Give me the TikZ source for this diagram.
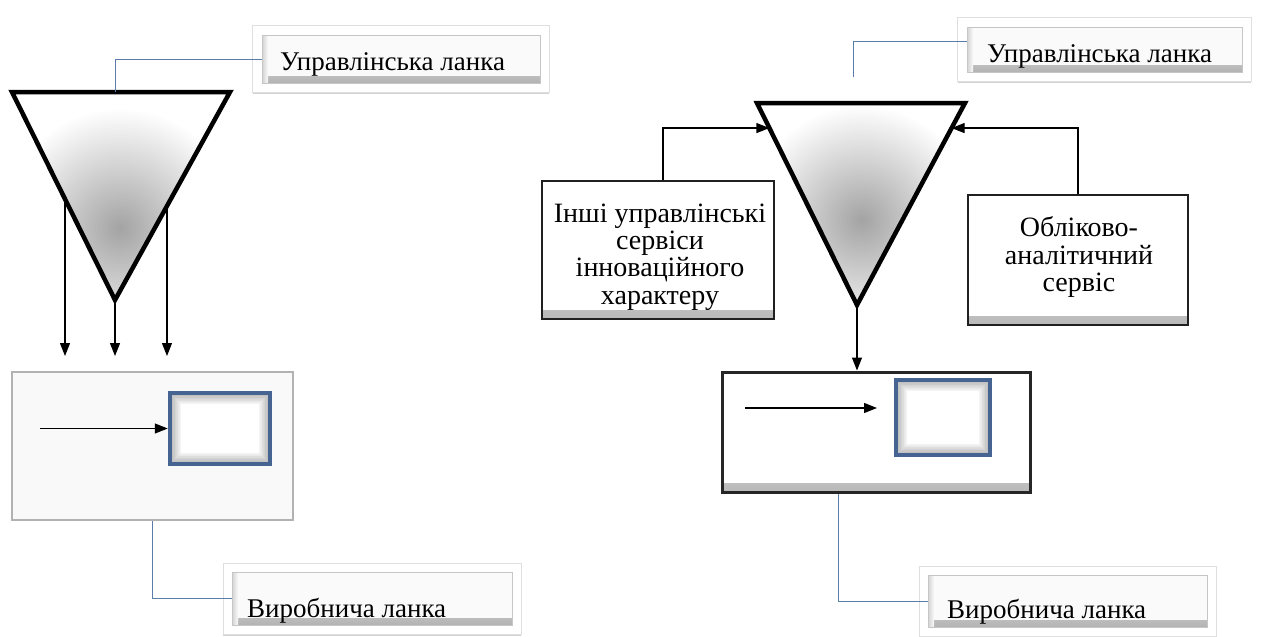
\documentclass[tikz,border=0pt]{standalone}
\usepackage{fontspec}
\setmainfont{Liberation Serif}
\usetikzlibrary{arrows.meta,shadows,calc,backgrounds,fit}
\definecolor{connc}{RGB}{90,125,170}
\definecolor{blueb}{RGB}{70,100,145}
\begin{document}
\begin{tikzpicture}[x=1pt,y=-1pt,
  btn/.style={draw=gray!45, line width=0.6pt, fill=gray!4, inner sep=0pt,
    path picture={\shade[top color=gray!4,bottom color=gray!60]
      (path picture bounding box.south west) rectangle ([yshift=7pt]path picture bounding box.south east);
      \shade[left color=gray!35,right color=gray!4]
      (path picture bounding box.south west) rectangle ([xshift=6pt]path picture bounding box.north west);}},
  labtext/.style={anchor=base west, inner sep=0pt, font=\fontsize{27}{30}\selectfont},
  card/.style={fill=white, draw=gray!25, line width=0.6pt,
    drop shadow={shadow xshift=0pt,shadow yshift=-2pt,opacity=0.35}},
  conn/.style={draw=connc, line width=1pt},
  arr/.style={-{Triangle[length=13pt,width=10pt]}, line width=1.2pt},
  tri/.style={line width=4.5pt, line join=miter},
  prodL/.style={draw=gray!60, line width=1.8pt, fill=gray!5},
  prodR/.style={draw=gray!30!black, line width=3pt, fill=white,
    path picture={\shade[top color=white,bottom color=gray!55]
      (path picture bounding box.south west) rectangle ([yshift=9pt]path picture bounding box.south east);}},
  inbox/.style={draw=blueb, line width=4.5pt, fill=white,
    path picture={\foreach \i in {1,...,7}{
      \fill[black, opacity=0.045, even odd rule]
        (path picture bounding box.north west) rectangle (path picture bounding box.south east)
        ([shift={(\i*1.6pt,-\i*1.6pt)}]path picture bounding box.north west) rectangle
        ([shift={(-\i*1.6pt,\i*1.6pt)}]path picture bounding box.south east);}}},
  svc/.style={draw=gray!25!black, line width=2.8pt, fill=white,
    path picture={\shade[top color=white,bottom color=gray!55]
      (path picture bounding box.south west) rectangle ([yshift=9pt]path picture bounding box.south east);}},
  svctext/.style={align=center, font=\fontsize{28}{27.3}\selectfont, inner sep=0pt}
]
\useasboundingbox (0,0) rectangle (1262,637);
\begin{scope}[on background layer]
  \fill[white] (0,0) rectangle (1262,637);
\end{scope}

% ---------------- left diagram ----------------
\coordinate (ltl) at (12,92);
\coordinate (ltr) at (230,92);
\coordinate (lap) at (115,300);
\coordinate (ltc) at (115,92);
\begin{scope}
  \clip (ltl) -- (ltr) -- (lap) -- cycle;
  \shade[inner color=gray!72, outer color=white] (120,228) circle (120);
\end{scope}
\draw[tri] (ltl) -- (ltr) -- (lap) -- cycle;

\node[btn, minimum width=278pt, minimum height=48pt] (lt) at (401,59) {};
\node[labtext] (ltt) at (280,70) {Управлінська ланка};
\begin{scope}[on background layer]
  \node[card, fit=(lt), inner sep=9pt] {};
\end{scope}
\draw[conn] (ltc) |- (lt.west);

\coordinate (le) at (0,356);
\coordinate (p1) at ($(ltl)!0.5146!(lap)$);
\coordinate (p3) at ($(ltr)!0.548!(lap)$);
\draw[arr] (p1) -- (p1 |- le);
\draw[arr] (lap) -- (lap |- le);
\draw[arr] (p3) -- (p3 |- le);

\node[prodL, minimum width=281pt, minimum height=148pt] (lp) at (152.5,446) {};
\node[inbox, minimum width=100pt, minimum height=71pt] (lbx) at (220,428.5) {};
\coordinate (la) at (40,428.5);
\draw[arr] (la) -- (lbx.west);

\node[btn, minimum width=280pt, minimum height=53pt] (lb) at (372,598.5) {};
\node[labtext] (lbt) at (247,617) {Виробнича ланка};
\begin{scope}[on background layer]
  \node[card, fit=(lb), inner sep=8.5pt] {};
\end{scope}
\draw[conn] (lp.south) |- (lb.west);

% ---------------- right diagram ----------------
\coordinate (rtl) at (757,103);
\coordinate (rtr) at (965,103);
\coordinate (rap) at (857,305);
\begin{scope}
  \clip (rtl) -- (rtr) -- (rap) -- cycle;
  \shade[inner color=gray!72, outer color=white] (862,220) circle (115);
\end{scope}
\draw[tri] (rtl) -- (rtr) -- (rap) -- cycle;

\node[btn, minimum width=275pt, minimum height=45pt] (rt) at (1104.5,49.5) {};
\node[labtext] (rtt) at (987,62) {Управлінська ланка};
\begin{scope}[on background layer]
  \node[card, fit=(rt), inner sep=9pt] {};
\end{scope}
\coordinate (rc) at (853,77);
\draw[conn] (rc) |- ($(rt.west)+(0,-8)$);

\node[svc, minimum width=232pt, minimum height=138pt] (ib) at (658,250) {};
\node[svctext] (ibt) at (660,257) {Інші управлінські\\сервіси\\інноваційного\\характеру};
\node[svc, minimum width=220pt, minimum height=130pt] (ob) at (1078,260) {};
\node[svctext] (obt) at (1079,257) {Обліково-\\аналітичний\\сервіс};

\coordinate (pL) at ($(rtl)!0.124!(rap)$);
\coordinate (pR) at ($(rtr)!0.124!(rap)$);
\draw[arr] ($(ib.north)+(5,0)$) |- (pL);
\draw[arr] (ob.north) |- (pR);

\node[prodR, minimum width=308pt, minimum height=120pt] (rp) at (876,432) {};
\draw[arr] (rap) -- (rap |- rp.north);
\node[inbox, minimum width=94pt, minimum height=75pt] (rbx) at (943,417.5) {};
\coordinate (ra) at (745,408);
\coordinate (rae) at (877,408);
\draw[arr] (ra) -- (rae);

\node[btn, minimum width=279pt, minimum height=52pt] (rb) at (1067.5,601) {};
\node[labtext] (rbt) at (947,618) {Виробнича ланка};
\begin{scope}[on background layer]
  \node[card, fit=(rb), inner sep=8.5pt] {};
\end{scope}
\draw[conn] ([xshift=-38pt]rp.south) |- (rb.west);
\end{tikzpicture}
\end{document}
